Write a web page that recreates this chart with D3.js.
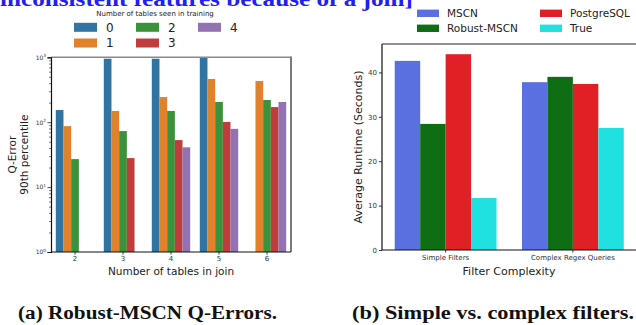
<!DOCTYPE html>
<html><head><meta charset="utf-8">
<script src="https://cdn.jsdelivr.net/npm/d3@7"></script>
<style>body{margin:0;background:#fff}svg{display:block}</style>
</head><body>
<svg id="c" width="636" height="325"></svg>
<script>
// ---- Data: left chart ----
const joinSizes = ["2","3","4","5","6"];
const trainLevels = ["0","1","2","3","4"];
const qerr0 = [154, 950, 950, 1100, null];
const qerr1 = [87, 149, 244, 463, 431];
const qerr2 = [27, 73, 149, 205, 220];
const qerr3 = [null, 28, 53, 101, 171];
const qerr4 = [null, null, 41, 79, 205];
const qerrSeries = [qerr0, qerr1, qerr2, qerr3, qerr4];
const leftColors = ["#3274a1", "#e1812c", "#3a923a", "#c03d3e", "#9372b2"];
const logTicks = [1, 10, 100, 1000];
const logTickExp = ["0", "1", "2", "3"];

// ---- Data: right chart ----
const filterTypes = ["Simple Filters", "Complex Regex Queries"];
const methods = ["MSCN", "Robust-MSCN", "PostgreSQL", "True"];
const runtimeMSCN = [42.6, 37.8];
const runtimeRobust = [28.4, 39.0];
const runtimePostgres = [44.1, 37.4];
const runtimeTrue = [11.7, 27.5];
const runtimeSeries = [runtimeMSCN, runtimeRobust, runtimePostgres, runtimeTrue];
const rightColors = ["#5a70e0", "#0e6e14", "#e02024", "#20e0e0"];
const runtimeTicks = [0, 10, 20, 30, 40];

const svg = d3.select("#c");
const F = "DejaVu Sans, sans-serif";

// top cut-off text
svg.append("text").attr("x", 0).attr("y", 5.5)
  .attr("font-family", "Liberation Serif, serif").attr("font-weight", "bold")
  .attr("font-size", 21).attr("fill", "#2020f0")
  .attr("textLength", 413).attr("lengthAdjust", "spacingAndGlyphs")
  .text("inconsistent features because of a join]");

// ================= LEFT CHART =================
const L = {x0: 51, x1: 291, y0: 57.3, y1: 252};
const xL = d3.scaleBand().domain(joinSizes).range([L.x0, L.x1]).paddingInner(0.2).paddingOuter(0.1);
const xLh = d3.scaleBand().domain(trainLevels).range([0, xL.bandwidth()]);
const yL = d3.scaleLog().domain([1, 1000]).range([L.y1, L.y0]);

svg.append("defs").append("clipPath").attr("id", "clipL")
  .append("rect").attr("x", L.x0).attr("y", L.y0).attr("width", L.x1 - L.x0).attr("height", L.y1 - L.y0);

const gBars = svg.append("g").attr("clip-path", "url(#clipL)");
qerrSeries.forEach((ser, h) => {
  ser.forEach((v, i) => {
    if (v == null) return;
    gBars.append("rect")
      .attr("x", xL(joinSizes[i]) + xLh(trainLevels[h]))
      .attr("width", xLh.bandwidth())
      .attr("y", yL(v)).attr("height", L.y1 - yL(v))
      .attr("fill", leftColors[h]);
  });
});

// frame
svg.append("line").attr("x1", L.x0).attr("x2", L.x1).attr("y1", L.y0).attr("y2", L.y0).attr("stroke", "#8a8a8a").attr("stroke-width", 1.5);
svg.append("line").attr("x1", L.x1).attr("x2", L.x1).attr("y1", L.y0 - 0.7).attr("y2", L.y1).attr("stroke", "#7a7a7a").attr("stroke-width", 2);

// y axis (log)
const yAxL = d3.axisLeft(yL).tickValues(logTicks).tickSize(3.5).tickFormat("");
const gyL = svg.append("g").attr("transform", `translate(${L.x0},0)`).call(yAxL);
gyL.select(".domain").attr("stroke", "#111").attr("stroke-width", 1.2);
gyL.selectAll(".tick line").attr("stroke", "#222").attr("stroke-width", 0.8);
const minors = [];
for (let k = 0; k < 3; k++) for (let m = 2; m <= 9; m++) minors.push(m * Math.pow(10, k));
const gyLm = svg.append("g").attr("transform", `translate(${L.x0},0)`).call(d3.axisLeft(yL).tickValues(minors).tickSize(2).tickFormat(""));
gyLm.select(".domain").remove();
gyLm.selectAll(".tick line").attr("stroke", "#222").attr("stroke-width", 0.6);
logTicks.forEach((t, i) => {
  const tx = svg.append("text").attr("x", 46).attr("y", yL(t) + 2.3)
    .attr("text-anchor", "end").attr("font-family", F).attr("font-size", 6).attr("fill", "#333");
  tx.append("tspan").text("10");
  tx.append("tspan").attr("font-size", 4.3).attr("dy", -2.6).text(logTickExp[i]);
});

// x axis
const gxL = svg.append("g").attr("transform", `translate(0,${L.y1})`)
  .call(d3.axisBottom(xL).tickSize(2.5).tickPadding(2));
gxL.select(".domain").attr("stroke", "#111").attr("stroke-width", 1.2).attr("d", `M${L.x0},0H${L.x1}`);
gxL.selectAll(".tick line").attr("stroke", "#333");
gxL.selectAll(".tick text").attr("font-family", F).attr("font-size", 7).attr("fill", "#333");

svg.append("text").attr("x", 171).attr("y", 275).attr("text-anchor", "middle")
  .attr("font-family", F).attr("font-size", 10.5).attr("fill", "#222").text("Number of tables in join");
svg.append("text").attr("transform", `translate(15.5,${(L.y0 + L.y1) / 2}) rotate(-90)`)
  .attr("text-anchor", "middle").attr("font-family", F).attr("font-size", 10.5).attr("fill", "#222").text("Q-Error");
svg.append("text").attr("transform", `translate(28,${(L.y0 + L.y1) / 2}) rotate(-90)`)
  .attr("text-anchor", "middle").attr("font-family", F).attr("font-size", 10.5).attr("fill", "#222").text("90th percentile");

// left legend
svg.append("text").attr("x", 155).attr("y", 15.5).attr("text-anchor", "middle")
  .attr("font-family", F).attr("font-size", 7).attr("fill", "#222").text("Number of tables seen in training");
const legColX = [74, 136, 198];
const legRowY = [27.3, 43];
trainLevels.forEach((lv, i) => {
  const col = Math.floor(i / 2), row = i % 2;
  const gx = legColX[col], gy = legRowY[row];
  svg.append("rect").attr("x", gx).attr("y", gy - 4.5).attr("width", 23).attr("height", 9).attr("fill", leftColors[i]);
  svg.append("text").attr("x", gx + 32).attr("y", gy + 4.3)
    .attr("font-family", F).attr("font-size", 12).attr("fill", "#222").text(lv);
});

// ================= RIGHT CHART =================
const R = {x0: 382, x1: 636.5, y0: 44, y1: 250};
const xR = d3.scaleBand().domain(filterTypes).range([R.x0, R.x1]).paddingInner(0.2).paddingOuter(0.1);
const xRh = d3.scaleBand().domain(methods).range([0, xR.bandwidth()]);
const yR = d3.scaleLinear().domain([0, 46.4]).range([R.y1, R.y0]);

runtimeSeries.forEach((ser, h) => {
  ser.forEach((v, i) => {
    svg.append("rect")
      .attr("x", xR(filterTypes[i]) + xRh(methods[h]))
      .attr("width", xRh.bandwidth())
      .attr("y", yR(v)).attr("height", R.y1 - yR(v))
      .attr("fill", rightColors[h]);
  });
});

svg.append("line").attr("x1", R.x0).attr("x2", 640).attr("y1", R.y0).attr("y2", R.y0).attr("stroke", "#222").attr("stroke-width", 1.2);
const gyR = svg.append("g").attr("transform", `translate(${R.x0},0)`)
  .call(d3.axisLeft(yR).tickValues(runtimeTicks).tickSize(3).tickPadding(2));
gyR.select(".domain").attr("stroke", "#111").attr("stroke-width", 1.2).attr("d", `M0,${R.y0}V${R.y1}`);
gyR.selectAll(".tick line").attr("stroke", "#333");
gyR.selectAll(".tick text").attr("font-family", F).attr("font-size", 7).attr("fill", "#333");

const gxR = svg.append("g").attr("transform", `translate(0,${R.y1})`)
  .call(d3.axisBottom(xR).tickSize(2.5).tickPadding(2.5));
gxR.select(".domain").attr("stroke", "#111").attr("stroke-width", 1.2).attr("d", `M${R.x0},0H640`);
gxR.selectAll(".tick line").attr("stroke", "#333");
gxR.selectAll(".tick text").attr("font-family", F).attr("font-size", 7).attr("fill", "#333");

svg.append("text").attr("x", 509).attr("y", 275).attr("text-anchor", "middle")
  .attr("font-family", F).attr("font-size", 11).attr("fill", "#222").text("Filter Complexity");
svg.append("text").attr("transform", `translate(362,${(R.y0 + R.y1) / 2}) rotate(-90)`)
  .attr("text-anchor", "middle").attr("font-family", F).attr("font-size", 11).attr("fill", "#222").text("Average Runtime (Seconds)");

// right legend
const rLegColX = [417, 540];
const rLegRowY = [13.3, 28.3];
methods.forEach((m, i) => {
  const col = Math.floor(i / 2), row = i % 2;
  const gx = rLegColX[col], gy = rLegRowY[row];
  svg.append("rect").attr("x", gx).attr("y", gy - 3.7).attr("width", 22).attr("height", 7.4).attr("fill", rightColors[i]);
  svg.append("text").attr("x", gx + 30).attr("y", gy + 3.8)
    .attr("font-family", F).attr("font-size", 10.5).attr("fill", "#222").text(m);
});

// captions
svg.append("text").attr("x", 18).attr("y", 319)
  .attr("font-family", "Liberation Serif, serif").attr("font-weight", "bold").attr("font-size", 18)
  .attr("fill", "#111").attr("textLength", 259).attr("lengthAdjust", "spacingAndGlyphs")
  .text("(a) Robust-MSCN Q-Errors.");
svg.append("text").attr("x", 352).attr("y", 319)
  .attr("font-family", "Liberation Serif, serif").attr("font-weight", "bold").attr("font-size", 18)
  .attr("fill", "#111").attr("textLength", 282).attr("lengthAdjust", "spacingAndGlyphs")
  .text("(b)  Simple vs. complex filters.");
</script>
</body></html>
